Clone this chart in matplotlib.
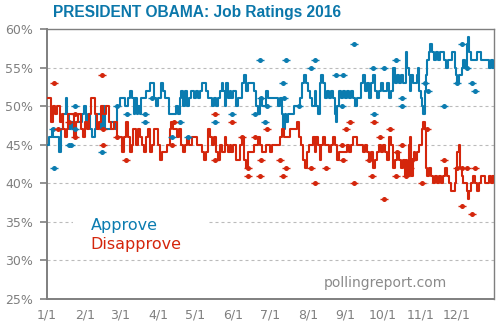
import matplotlib
matplotlib.use("Agg")
import matplotlib.pyplot as plt
from matplotlib.patches import Rectangle

BLUE = "#0B7CB0"
RED = "#D4260C"
GREY = "#7f7f7f"

# ---- data (day of year 2016, percent) ----
appr_days = [0.8, 3, 4.4, 5.7, 8.4, 11, 12.5, 14.4, 16, 17, 18.8, 20.7, 22.6, 24.8, 27.5, 29.7, 31.3, 33, 34.6, 36.2,
             37.9, 39.8, 41, 43.3, 45, 46.6, 48.7, 51, 53, 54.7, 56.4, 58.5, 60.7, 62.9, 65, 67, 68.9, 70.5, 71.6, 72.7,
             74, 75.2, 76.5, 77.9, 79.8, 81.4, 83.3, 84.7, 86.9, 88.5, 90.1, 91.8, 94, 95.6, 97.2, 98.9, 100, 101, 102.7,
             104.3, 105.9, 107.6, 109.2, 110.3, 111.9, 113.6, 115.2, 116.8, 119, 120.6, 122.3, 123.9, 125.5, 127.2,
             128.8, 130.4, 132.1, 133.7, 135.3, 137, 138.6, 140.2, 141.9, 143.5, 144.6, 146, 147.3, 148.7, 150, 151.4,
             153.3, 154.9, 156.6, 158.2, 159.8, 161.5, 163.1, 164.7, 166.4, 168, 169.6, 171.3, 172.9, 174.6, 176.2,
             177.8, 179.5, 181.1, 182.7, 184.4, 186, 187.6, 189.3, 190.9, 192.5, 193.6, 194.7, 196.3, 198, 199.6, 201.2,
             202.9, 204.5, 206.1, 207.8, 209.4, 211, 212.7, 214.3, 215.9, 217.6, 219.5, 220.8, 222.2, 223.5, 224.9,
             226.3, 227.9, 229.5, 231.2, 232.8, 234.4, 235.5, 236.6, 237.7, 239.3, 241, 242.6, 244.2, 245.9, 247.5,
             249.1, 250.8, 252.4, 254, 255.7, 257.3, 258.9, 260.6, 262.2, 263.8, 265.5, 267.1, 268.7, 270.4, 272, 273.7,
             275.3, 276.9, 278.5, 280.2, 281.8, 283.5, 285.1, 286.7, 288.4, 290, 291.6, 293, 293.9, 295, 296, 297.1,
             298.2, 299.3, 300.4, 301.5, 302.6, 303.7, 304.8, 305.9, 307, 308, 309.1, 310.2, 311.3, 312.4, 313.5, 315.1,
             316.7, 318.4, 320, 321.7, 323.3, 324.9, 326.6, 328.2, 329.8, 331.5, 332.5, 333.6, 334.7, 335.8, 336.9, 338,
             339.6, 340.7, 342.3, 343.4, 344.5, 345.6, 347.2, 348.9, 350.5, 352.1, 353.8, 355.4, 357, 358.7, 360.3, 362,
             363.6, 364.7]
appr_vals = [45, 46, 47, 46, 46, 44, 47, 49, 51, 49, 47, 48, 47, 48, 48, 49, 50, 48, 49, 47,
             46, 47, 49, 49, 47, 50, 47, 47, 48, 48, 47, 50, 51, 51, 50, 51, 52, 51, 49, 51,
             49, 50, 49, 51, 51, 52, 52, 53, 53, 51, 50, 51, 53, 52, 51, 51, 49, 49, 49,
             49, 50, 49, 51, 52, 50, 52, 50, 51, 52, 51, 52, 51, 52, 53,
             53, 52, 51, 51, 50, 51, 50, 51, 52, 53, 52, 50, 53, 51, 52, 51,
             52, 50, 51, 51, 53, 54, 52, 53, 53, 53, 52, 50, 49, 51, 50,
             50, 52, 51, 51, 51, 51, 51, 50, 51, 49, 47, 49, 48, 49, 49, 49,
             50, 50, 50, 51, 53, 54, 53, 52, 51, 50, 52, 50, 49, 53, 54,
             53, 51, 52, 51, 52, 51, 49, 48, 50, 52, 51, 52, 51, 52, 51,
             52, 51, 50, 51, 51, 53, 54, 52, 53, 51, 53, 54, 52, 51, 52, 53,
             52, 52, 53, 51, 52, 55, 53, 54, 53, 54, 53, 53, 57, 55, 54, 52,
             54, 53, 53, 53, 54, 55, 52, 51, 50, 49, 52, 54, 56, 57, 58, 57,
             56, 57, 56, 57, 57, 56, 55, 56, 56, 57, 57, 55, 54, 53, 54, 54,
             55, 56, 55, 58, 59, 57, 56, 56, 56, 57, 57, 56, 56, 56, 56, 55,
             56, 55]

disp_days = [0.8, 2.4, 4, 5.7, 7.3, 9.8, 11.2, 12.8, 13.9, 15.3, 16.6, 18.2, 20.7, 22.9, 24.8, 26.4, 28.6, 30.2, 31.9,
             33.5, 35.1, 37, 38.4, 39.8, 41.1, 43.3, 45.2, 47.1, 49.3, 51.5, 53.6, 55.8, 58, 60.2, 62.4, 64, 65, 66.7,
             68.3, 70, 71.1, 72.4, 73.8, 75.2, 77.1, 78.7, 80.3, 82, 83.6, 85.2, 86.9, 88.5, 90.1, 91.8, 93.4, 95, 97.2,
             99.4, 101, 102.1, 103.8, 105.4, 107, 108.7, 110.3, 111.9, 113.6, 115.2, 117.4, 119.5, 121.7, 123.9, 125.5,
             127.2, 128.8, 130.4, 132.1, 133.7, 135.9, 137.5, 139.2, 140.8, 142.4, 144.1, 146, 147.3, 148.7, 150, 151.4,
             153.3, 154.9, 156.6, 158.2, 159.8, 161.5, 163.1, 164.7, 166.4, 168, 169.6, 171.3, 172.9, 174.6, 176.2,
             177.8, 179.5, 181.1, 182.7, 184.4, 186, 187.6, 189.3, 190.9, 192.5, 194.2, 195.8, 197.4, 199, 200.7, 202.3,
             204, 205, 206.7, 208.3, 210, 211.6, 213.2, 214.9, 216.5, 218.1, 219.5, 220.8, 222.2, 223.5, 224.9, 226.3,
             227.9, 229.5, 231.2, 232.8, 234.4, 236.1, 237.7, 239.3, 241, 242.6, 244.2, 245.9, 247.5, 249.1, 250.8,
             252.4, 254, 255.7, 257.3, 258.9, 260.6, 262.2, 263.8, 265.5, 267.1, 268.7, 270.4, 272, 273.7, 275.3, 276.9,
             278.5, 280.2, 281.8, 283.5, 285.1, 286.7, 288.4, 290, 291.6, 292.8, 293.9, 295, 296, 297.1, 298.2, 299.3,
             300.4, 301.5, 302.6, 303.7, 304.8, 305.9, 307, 308, 309.1, 309.7, 310.2, 311.3, 312.9, 314.6, 316.2, 317.8,
             319.5, 321.1, 322.7, 324.4, 326, 327.6, 329.3, 330.9, 332.5, 333.6, 334.7, 335.8, 336.9, 338, 339.6, 340.7,
             342.3, 343.4, 344.5, 345.6, 347.2, 348.9, 350.5, 352.1, 353.8, 355.4, 357, 358.7, 360.3, 362, 363.6, 364.7]
disp_vals = [51, 51, 48, 50, 49, 50, 48, 49, 47, 46, 47, 49, 49, 46, 48, 49, 47, 46, 48,
             47, 49, 51, 51, 49, 47, 48, 50, 49, 50, 48, 47, 48, 46, 46, 44, 46, 48, 46,
             44, 45, 47, 47, 45, 47, 46, 45, 44, 46, 47, 44, 45, 47, 47, 45, 43, 44, 44,
             45, 47, 48, 47, 47, 46, 47, 45, 44, 45, 46, 45, 46, 46, 45, 45,
             44, 43, 44, 47, 46, 45, 46, 44, 43, 45, 44, 46, 45, 44, 45, 44,
             45, 43, 43, 45, 46, 43, 42, 44, 44, 44, 45, 45, 46, 45, 44,
             44, 45, 45, 44, 45, 45, 45, 45, 46, 47, 46, 46, 46, 47, 47, 47,
             47, 48, 46, 45, 43, 42, 44, 45, 45, 46, 44, 46, 45, 43, 45, 46,
             45, 45, 44, 45, 46, 45, 43, 44, 44, 44, 44, 45, 44, 45, 46,
             46, 45, 45, 45, 44, 45, 44, 43, 44, 42, 43, 44, 45, 44, 45, 44,
             43, 46, 45, 42, 43, 44, 43, 42, 43, 41, 43, 41, 45, 46, 41, 43,
             44, 43, 44, 44, 45, 45, 47, 48, 47, 45, 42, 41, 42, 41, 40, 41,
             40, 41, 40, 41, 42, 41, 40, 39, 39, 40, 42, 44, 45, 42, 41, 40,
             40, 39, 38, 39, 40, 41, 40, 39, 40, 41, 41, 40, 40, 41, 40, 41]

appr_poll_days = [5, 6, 18, 19.5, 23, 23, 45, 57, 65, 80, 80, 86, 102, 109, 115, 137, 151, 170, 174, 175, 178, 179.5,
                  193, 194, 195, 206, 216, 219, 236, 242, 241, 251, 266, 267, 275, 285, 290, 290, 309, 311, 324, 335,
                  339, 343, 347, 350]
appr_poll_vals = [47, 42, 45, 45, 50, 47, 44, 50, 49, 48, 49, 51, 46, 48, 46, 48, 49, 49, 56, 51, 48, 50,
                  53, 51, 56, 50, 55, 56, 54, 54, 50, 58, 55, 49, 55, 56, 51, 50, 53, 52, 50, 53,
                  58, 55, 53, 52]

disp_poll_days = [6, 45, 9, 18, 23, 23, 45.5, 46, 57.5, 64.5, 102, 104, 137, 137, 151, 159.6, 164, 164, 170, 174, 175,
                  179.5, 190, 192.5, 195, 216, 219, 228, 241, 242, 244, 247.5, 251, 263, 265.5, 267, 272, 275, 280,
                  285, 286, 290, 293, 296.6, 298, 306, 310.7, 324, 335, 339, 339, 343.4, 347.5, 350]
disp_poll_vals = [53, 54, 47, 48, 49, 46, 47, 45, 46, 43, 45, 48, 49, 43, 48, 46, 42, 41, 46, 41, 43,
                  47, 43, 41, 42, 42, 40, 42, 45, 43, 47, 48, 40, 43, 41, 48, 46, 38, 47,
                  41, 44, 45, 41, 42, 43, 40, 47, 43, 42, 42, 37, 42, 36, 42]

month_days = [0, 31, 60, 91, 121, 152, 182, 213, 244, 274, 305, 335]
month_labels = ["1/1", "2/1", "3/1", "4/1", "5/1", "6/1", "7/1", "8/1", "9/1", "10/1", "11/1", "12/1"]
y_ticks = [25, 30, 35, 40, 45, 50, 55, 60]
y_labels = ["25%", "30%", "35%", "40%", "45%", "50%", "55%", "60%"]

# ---- figure ----
W, H = 497, 321
fig = plt.figure(figsize=(W / 100, H / 100), dpi=100)
ax = fig.add_axes([47 / W, 1 - 299 / H, (494 - 47) / W, (299 - 29) / H])

ax.set_xlim(0, 365.2)
ax.set_ylim(25, 60)

for v in y_ticks[1:-1]:
    ax.axhline(v, color="#bbbbbb", lw=0.8, linestyle=(0, (2.7, 2.7)), zorder=1)

ax.plot(appr_days, appr_vals, drawstyle="steps-mid", color=BLUE, lw=1.5, zorder=3)
ax.plot(disp_days, disp_vals, drawstyle="steps-mid", color=RED, lw=1.5, zorder=3)

for d, v, c in ((appr_poll_days, appr_poll_vals, BLUE), (disp_poll_days, disp_poll_vals, RED)):
    ax.plot(d, v, linestyle="none", marker="o", markersize=3.6, color=c, markeredgewidth=0, zorder=4)
    ax.plot(d, v, linestyle="none", marker="_", markersize=6, color=c, markeredgewidth=1.0, zorder=4)

# legend box
ax.add_patch(Rectangle((0.058, 0.165), 0.305, 0.2, transform=ax.transAxes,
                       facecolor="white", edgecolor="none", zorder=2))
ax.text(0.098, 0.274, "Approve", transform=ax.transAxes, color=BLUE, fontsize=11.5,
        va="center", ha="left", zorder=5)
ax.text(0.098, 0.200, "Disapprove", transform=ax.transAxes, color=RED, fontsize=11.5,
        va="center", ha="left", zorder=5)
ax.text(0.62, 0.059, "pollingreport.com", transform=ax.transAxes, color="#8a8a8a", fontsize=10,
        va="center", ha="left", zorder=5)

ax.set_xticks(month_days)
ax.set_xticklabels(month_labels)
ax.set_yticks(y_ticks)
ax.set_yticklabels(y_labels)
ax.tick_params(axis="x", length=0, pad=7, labelsize=9, labelcolor=GREY)
ax.tick_params(axis="y", length=5, width=1.2, color=GREY, pad=5, labelsize=9, labelcolor=GREY)

for s in ("left", "bottom"):
    ax.spines[s].set_color(GREY)
    ax.spines[s].set_linewidth(1.4)
for s in ("top", "right"):
    ax.spines[s].set_color(GREY)
    ax.spines[s].set_linewidth(1.0)

fig.text(53 / W, 1 - 13 / H, "PRESIDENT OBAMA: Job Ratings 2016", color="#0B77AA",
         fontsize=11.2, fontweight="bold", family="Liberation Sans", va="center", ha="left")

fig.savefig("out.png", dpi=100)
